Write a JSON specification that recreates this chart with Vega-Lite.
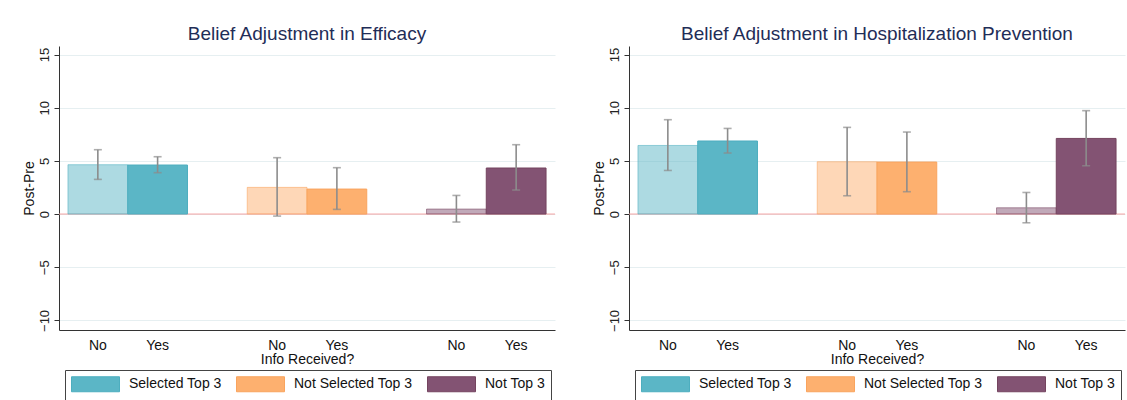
{
  "$schema": "https://vega.github.io/schema/vega-lite/v6.json",
  "background": "white",
  "padding": {"left": 22, "top": 25, "right": 3, "bottom": 3},
  "data": {
    "values": [
      {"panel": "Efficacy", "group": "Selected Top 3", "info": "No", "mean": 4.64, "lo": 3.26, "hi": 6.05},
      {"panel": "Efficacy", "group": "Selected Top 3", "info": "Yes", "mean": 4.61, "lo": 3.89, "hi": 5.39},
      {"panel": "Efficacy", "group": "Not Selected Top 3", "info": "No", "mean": 2.51, "lo": -0.19, "hi": 5.3},
      {"panel": "Efficacy", "group": "Not Selected Top 3", "info": "Yes", "mean": 2.35, "lo": 0.44, "hi": 4.36},
      {"panel": "Efficacy", "group": "Not Top 3", "info": "No", "mean": 0.47, "lo": -0.75, "hi": 1.75},
      {"panel": "Efficacy", "group": "Not Top 3", "info": "Yes", "mean": 4.33, "lo": 2.26, "hi": 6.52},
      {"panel": "Hosp", "group": "Selected Top 3", "info": "No", "mean": 6.45, "lo": 4.1, "hi": 8.87},
      {"panel": "Hosp", "group": "Selected Top 3", "info": "Yes", "mean": 6.87, "lo": 5.74, "hi": 8.05},
      {"panel": "Hosp", "group": "Not Selected Top 3", "info": "No", "mean": 4.92, "lo": 1.72, "hi": 8.15},
      {"panel": "Hosp", "group": "Not Selected Top 3", "info": "Yes", "mean": 4.89, "lo": 2.1, "hi": 7.71},
      {"panel": "Hosp", "group": "Not Top 3", "info": "No", "mean": 0.59, "lo": -0.82, "hi": 2.03},
      {"panel": "Hosp", "group": "Not Top 3", "info": "Yes", "mean": 7.11, "lo": 4.54, "hi": 9.72}
    ]
  },
  "spacing": 36,
  "resolve": {"legend": {"fill": "independent", "stroke": "independent"}},
  "hconcat": [
    {
      "title": {"text": "Belief Adjustment in Efficacy"},
      "width": 496,
      "height": 284,
      "transform": [
        {"filter": "datum.panel === 'Efficacy'"},
        {"calculate": "datum.group + '|' + datum.info", "as": "cell"}
      ],
      "layer": [
        {
          "data": {"values": [{"ref": 0}]},
          "mark": {"type": "rule", "color": "#F4A3A3", "strokeWidth": 1},
          "encoding": {
            "y": {"field": "ref", "type": "quantitative", "scale": {"domain": [-10.9, 15.8], "nice": false, "zero": false}, "title": "Post-Pre"}
          }
        },
        {
          "mark": {"type": "bar", "strokeWidth": 1},
          "encoding": {
            "x": {"field": "cell", "type": "nominal", "title": "Info Received?",
              "scale": {"domain": ["Selected Top 3|No", "Selected Top 3|Yes", "gap1", "Not Selected Top 3|No", "Not Selected Top 3|Yes", "gap2", "Not Top 3|No", "Not Top 3|Yes"], "paddingInner": 0, "paddingOuter": 0.15},
              "axis": {"labelExpr": "indexof(datum.label, '|') >= 0 ? split(datum.label, '|')[1] : ''"}},
            "y": {"field": "mean", "type": "quantitative", "scale": {"domain": [-10.9, 15.8], "nice": false, "zero": false}, "title": "Post-Pre"},
            "fill": {"field": "group", "type": "nominal", "title": null,
              "scale": {"domain": ["Selected Top 3", "Not Selected Top 3", "Not Top 3"], "range": ["#5BB6C6", "#FDB06F", "#835373"]},
              "legend": {"orient": "none", "legendX": 6, "legendY": 324}},
            "stroke": {"field": "group", "type": "nominal", "title": null,
              "scale": {"domain": ["Selected Top 3", "Not Selected Top 3", "Not Top 3"], "range": ["#4DAEBF", "#F9A45E", "#74445F"]},
              "legend": {"orient": "none", "legendX": 6, "legendY": 324}},
            "fillOpacity": {"field": "info", "type": "nominal", "scale": {"domain": ["No", "Yes"], "range": [0.5, 1]}, "legend": null},
            "strokeOpacity": {"field": "info", "type": "nominal", "scale": {"domain": ["No", "Yes"], "range": [0.55, 1]}, "legend": null}
          }
        },
        {
          "mark": {"type": "errorbar", "color": "#8C8C8C", "thickness": 1.6, "ticks": {"size": 8}},
          "encoding": {
            "x": {"field": "cell", "type": "nominal", "title": "Info Received?"},
            "y": {"field": "lo", "type": "quantitative", "scale": {"domain": [-10.9, 15.8], "nice": false, "zero": false}, "title": "Post-Pre"},
            "y2": {"field": "hi"}
          }
        }
      ]
    },
    {
      "title": {"text": "Belief Adjustment in Hospitalization Prevention"},
      "width": 496,
      "height": 284,
      "transform": [
        {"filter": "datum.panel === 'Hosp'"},
        {"calculate": "datum.group + '|' + datum.info", "as": "cell"}
      ],
      "layer": [
        {
          "data": {"values": [{"ref": 0}]},
          "mark": {"type": "rule", "color": "#F4A3A3", "strokeWidth": 1},
          "encoding": {
            "y": {"field": "ref", "type": "quantitative", "scale": {"domain": [-10.9, 15.8], "nice": false, "zero": false}, "title": "Post-Pre"}
          }
        },
        {
          "mark": {"type": "bar", "strokeWidth": 1},
          "encoding": {
            "x": {"field": "cell", "type": "nominal", "title": "Info Received?",
              "scale": {"domain": ["Selected Top 3|No", "Selected Top 3|Yes", "gap1", "Not Selected Top 3|No", "Not Selected Top 3|Yes", "gap2", "Not Top 3|No", "Not Top 3|Yes"], "paddingInner": 0, "paddingOuter": 0.15},
              "axis": {"labelExpr": "indexof(datum.label, '|') >= 0 ? split(datum.label, '|')[1] : ''"}},
            "y": {"field": "mean", "type": "quantitative", "scale": {"domain": [-10.9, 15.8], "nice": false, "zero": false}, "title": "Post-Pre"},
            "fill": {"field": "group", "type": "nominal", "title": null,
              "scale": {"domain": ["Selected Top 3", "Not Selected Top 3", "Not Top 3"], "range": ["#5BB6C6", "#FDB06F", "#835373"]},
              "legend": {"orient": "none", "legendX": 6, "legendY": 324}},
            "stroke": {"field": "group", "type": "nominal", "title": null,
              "scale": {"domain": ["Selected Top 3", "Not Selected Top 3", "Not Top 3"], "range": ["#4DAEBF", "#F9A45E", "#74445F"]},
              "legend": {"orient": "none", "legendX": 6, "legendY": 324}},
            "fillOpacity": {"field": "info", "type": "nominal", "scale": {"domain": ["No", "Yes"], "range": [0.5, 1]}, "legend": null},
            "strokeOpacity": {"field": "info", "type": "nominal", "scale": {"domain": ["No", "Yes"], "range": [0.55, 1]}, "legend": null}
          }
        },
        {
          "mark": {"type": "errorbar", "color": "#8C8C8C", "thickness": 1.6, "ticks": {"size": 8}},
          "encoding": {
            "x": {"field": "cell", "type": "nominal", "title": "Info Received?"},
            "y": {"field": "lo", "type": "quantitative", "scale": {"domain": [-10.9, 15.8], "nice": false, "zero": false}, "title": "Post-Pre"},
            "y2": {"field": "hi"}
          }
        }
      ]
    }
  ],
  "config": {
    "font": "Liberation Sans",
    "view": {"stroke": null},
    "title": {"font": "Liberation Sans", "fontSize": 19, "fontWeight": "normal", "color": "#1F2D57", "anchor": "middle", "offset": 2},
    "axisY": {
      "values": [-10, -5, 0, 5, 10, 15],
      "labelAngle": -90, "labelAlign": "center", "labelBaseline": "bottom",
      "labelFontSize": 13, "labelColor": "#222", "labelPadding": 3,
      "tickSize": 5, "tickColor": "#333", "domainColor": "#333",
      "grid": true, "gridColor": "#E6EFF1", "gridWidth": 1,
      "titleFontSize": 14, "titleFontWeight": "normal", "titleColor": "#111", "titlePadding": 2
    },
    "axisX": {
      "ticks": false, "tickSize": 0, "labelAngle": 0, "labelFontSize": 14, "labelColor": "#111", "labelPadding": 8,
      "domainColor": "#333", "grid": false,
      "titleFontSize": 14, "titleFontWeight": "normal", "titleColor": "#111", "titlePadding": 0
    },
    "legend": {
      "direction": "horizontal", "strokeColor": "#444", "padding": 6,
      "labelFontSize": 14, "labelColor": "#111", "labelOffset": 25.5, "symbolOffset": 16.5, "columnPadding": 12,
      "symbolType": "M-3.2,-1H3.2V1H-3.2Z", "symbolSize": 225, "symbolStrokeWidth": 1, "symbolOpacity": 1
    }
  }
}
